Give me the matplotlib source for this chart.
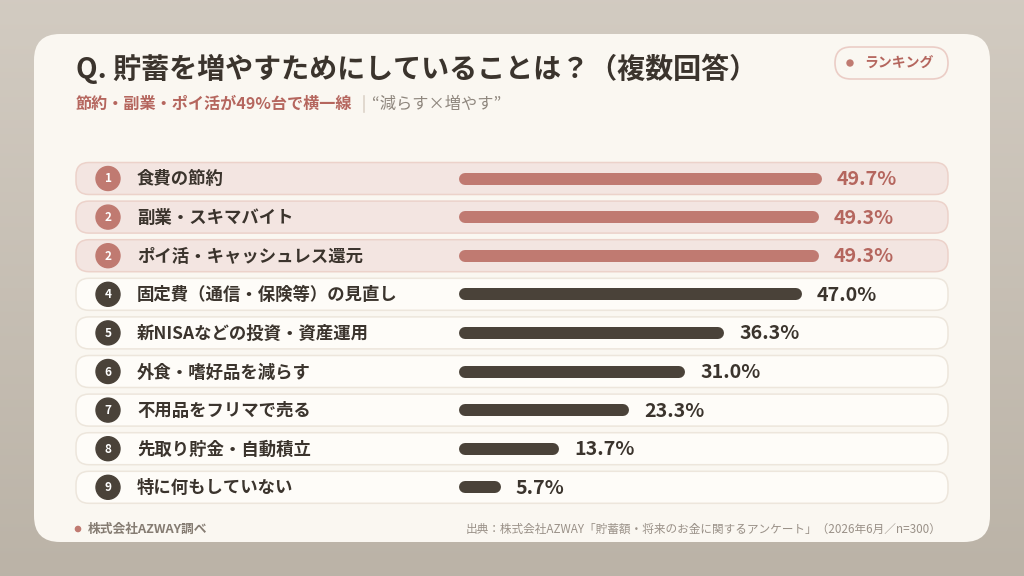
import numpy as np
import matplotlib
matplotlib.use("Agg")
import matplotlib.pyplot as plt
from matplotlib.patches import FancyBboxPatch, Circle

plt.rcParams['font.family'] = ['Noto Sans CJK JP', 'DejaVu Sans']

# データ
ranks = [1, 2, 2, 4, 5, 6, 7, 8, 9]
labels = ["食費の節約", "副業・スキマバイト", "ポイ活・キャッシュレス還元",
          "固定費（通信・保険等）の見直し", "新NISAなどの投資・資産運用",
          "外食・嗜好品を減らす", "不用品をフリマで売る",
          "先取り貯金・自動積立", "特に何もしていない"]
values = [49.7, 49.3, 49.3, 47.0, 36.3, 31.0, 23.3, 13.7, 5.7]
n_highlight = 3

title = "Q. 貯蓄を増やすためにしていることは？（複数回答）"
sub_red = "節約・副業・ポイ活が49%台で横一線"
sub_grey = "“減らす×増やす”"
badge = "ランキング"
foot_left = "株式会社AZWAY調べ"
foot_right = "出典：株式会社AZWAY「貯蓄額・将来のお金に関するアンケート」（2026年6月／n=300）"

# 色
TXT = '#3b342d'
DARK = '#4a4239'
ROSE = '#c07a71'
ROSE_TXT = '#b5665e'
GREY = '#8f877e'
CARD = '#faf7f1'

W, H = 1024, 576
fig = plt.figure(figsize=(W / 100, H / 100), dpi=100)

# 背景グラデーション
bg = fig.add_axes([0, 0, 1, 1])
grad = np.linspace(0, 1, 256)[:, None]
top = np.array([0.824, 0.796, 0.757])
bot = np.array([0.733, 0.702, 0.655])
img = top[None, None, :] * (1 - grad[..., None]) + bot[None, None, :] * grad[..., None]
bg.imshow(np.repeat(img, 2, axis=1), extent=[0, W, H, 0], aspect='auto')
bg.set_xlim(0, W)
bg.set_ylim(H, 0)
bg.axis('off')

# カード
card = FancyBboxPatch((34 + 26, 34 + 26), 956 - 52, 508 - 52,
                      boxstyle="round,pad=26", fc=CARD, ec='none', zorder=1)
bg.add_patch(card)

# タイトル
bg.text(76, 69, title, fontsize=20.2, fontweight='bold', color=TXT,
        va='center', ha='left', zorder=5)
bg.text(76, 104, sub_red, fontsize=11.6, fontweight='bold', color=ROSE_TXT,
        va='center', ha='left', zorder=5)
bg.plot([364, 364], [96, 112], color='#dcd4c9', lw=1.2, zorder=5)
bg.text(372, 104, sub_grey, fontsize=11.7, color=GREY, va='center', ha='left', zorder=5)

# バッジ
pill = FancyBboxPatch((835 + 16, 47 + 16), 113 - 32, 32 - 32,
                      boxstyle="round,pad=16", fc=CARD, ec='#ebcdc6', lw=1.2, zorder=3)
bg.add_patch(pill)
bg.add_patch(Circle((850, 63), 3, color=ROSE, zorder=4))
bg.text(864, 63.5, badge, fontsize=10, fontweight='bold', color=ROSE_TXT,
        va='center', ha='left', zorder=5)

# 行
row0, pitch, rh = 178.5, 38.6, 32
for i, (r, lab) in enumerate(zip(ranks, labels)):
    cy = row0 + i * pitch
    hl = i < n_highlight
    fc = '#f3e5e1' if hl else '#fefcf8'
    ec = '#ecd2ca' if hl else '#ede6dc'
    box = FancyBboxPatch((76 + 13, cy - rh / 2 + 13), 872 - 26, rh - 26,
                         boxstyle="round,pad=13", fc=fc, ec=ec, lw=1.1, zorder=2)
    bg.add_patch(box)
    bg.add_patch(Circle((108, cy), 12, color=ROSE if hl else DARK, zorder=4))
    bg.text(108, cy + 0.5, str(r), fontsize=8.5, fontweight='bold', color='white',
            ha='center', va='center', zorder=5)
    bg.text(137, cy + 1, lab, fontsize=12.5, fontweight='bold', color=TXT,
            ha='left', va='center', zorder=5)

# バー（データ座標）
px_per = 7.3
xmax = 60
ax = fig.add_axes([459 / W, 0, xmax * px_per / W, 1])
ax.set_xlim(0, xmax)
ax.set_ylim(H, 0)
ax.axis('off')
ax.patch.set_alpha(0)
cap = 6 / px_per
for i, v in enumerate(values):
    cy = row0 + i * pitch
    hl = i < n_highlight
    col = ROSE if hl else DARK
    ax.plot([cap, v - cap], [cy, cy], color=col, lw=12 * 0.72,
            solid_capstyle='round', zorder=4)
    ax.text(v + 15 / px_per, cy + 1, f"{v:.1f}%", fontsize=14.2, fontweight='bold',
            color=ROSE_TXT if hl else TXT, ha='left', va='center', zorder=5)

# フッター
bg.add_patch(Circle((78, 529), 2.6, color=ROSE, zorder=4))
bg.text(88, 529, foot_left, fontsize=9.2, fontweight='bold', color='#857c72',
        ha='left', va='center', zorder=5)
bg.text(941, 529, foot_right, fontsize=8.4, color='#9a9188',
        ha='right', va='center', zorder=5)

fig.savefig('out.png', dpi=100)
